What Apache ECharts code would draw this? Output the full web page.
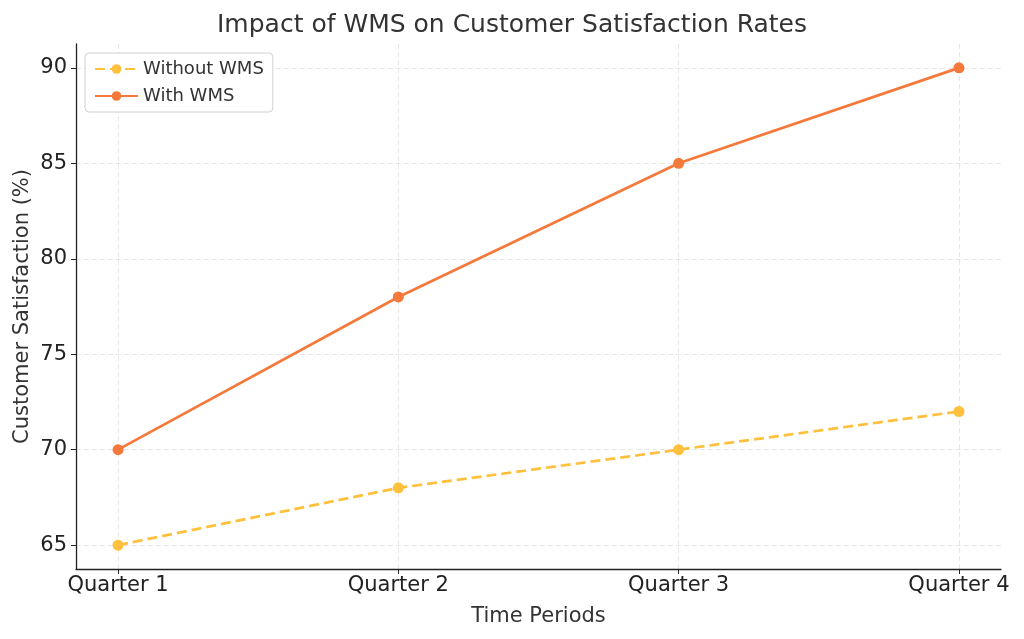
<!DOCTYPE html>
<html><head><meta charset="utf-8">
<script src="https://cdn.jsdelivr.net/npm/echarts@6/dist/echarts.min.js"></script>
<style>html,body{margin:0;padding:0;background:#fff}#c{width:1024px;height:639px}</style>
</head><body><div id="c"></div>
<script>
const categories = ['Quarter 1', 'Quarter 2', 'Quarter 3', 'Quarter 4'];
const withoutWMS = [65, 68, 70, 72];
const withWMS = [70, 78, 85, 90];
const yTicks = [65, 70, 75, 80, 85, 90];

const xIdx = categories.map((c, i) => i);
const font = 'DejaVu Sans';
const chart = echarts.init(document.getElementById('c'));
chart.setOption({
  backgroundColor: '#fff',
  animation: false,
  textStyle: { fontFamily: font },
  title: {
    text: 'Impact of WMS on Customer Satisfaction Rates',
    left: 'center', top: 8,
    textStyle: { fontFamily: font, fontSize: 25, fontWeight: 'normal', color: '#333' }
  },
  legend: {
    left: 85, top: 53, orient: 'vertical',
    backgroundColor: '#fff', borderColor: '#d0d0d0', borderWidth: 1, borderRadius: 4,
    padding: [7, 9, 7, 9], itemGap: 9, itemWidth: 43, itemHeight: 12,
    textStyle: { fontFamily: font, fontSize: 18, color: '#333' },
    data: ['Without WMS', 'With WMS']
  },
  grid: { left: 76, right: 23, top: 44, bottom: 70 },
  xAxis: {
    type: 'value', min: -0.15, max: 3.15,
    name: 'Time Periods', nameLocation: 'middle', nameGap: 37,
    nameTextStyle: { fontFamily: font, fontSize: 21, color: '#333' },
    axisLine: { show: true, onZero: false, lineStyle: { color: '#222', width: 1.3 } },
    axisTick: { show: true, length: 5, inside: false, customValues: xIdx, lineStyle: { color: '#222' } },
    axisLabel: { customValues: xIdx, formatter: v => categories[Math.round(v)], fontFamily: font, fontSize: 21, color: '#222', margin: 6 },
    splitLine: { show: true, customValues: xIdx, lineStyle: { color: '#e6e6e6', type: [5, 3] } }
  },
  yAxis: {
    type: 'value', min: 63.75, max: 91.25,
    name: 'Customer Satisfaction (%)', nameLocation: 'middle', nameGap: 43, nameMoveOverlap: false,
    nameTextStyle: { fontFamily: font, fontSize: 21, color: '#333' },
    axisLine: { show: true, onZero: false, lineStyle: { color: '#222', width: 1.3 } },
    axisTick: { show: true, length: 5, customValues: yTicks, lineStyle: { color: '#222' } },
    axisLabel: { customValues: yTicks, fontFamily: font, fontSize: 21, color: '#222', margin: 9 },
    splitLine: { show: true, customValues: yTicks, lineStyle: { color: '#e6e6e6', type: [5, 3] } }
  },
  series: [
    {
      name: 'Without WMS', type: 'line',
      data: withoutWMS.map((v, i) => [xIdx[i], v]),
      symbol: 'circle', symbolSize: 11,
      itemStyle: { color: '#FFC03D' },
      lineStyle: { color: '#FFC03D', width: 2.7, type: [10, 5] }
    },
    {
      name: 'With WMS', type: 'line',
      data: withWMS.map((v, i) => [xIdx[i], v]),
      symbol: 'circle', symbolSize: 11,
      itemStyle: { color: '#F5793A' },
      lineStyle: { color: '#F5793A', width: 2.7 }
    }
  ]
});
</script></body></html>
